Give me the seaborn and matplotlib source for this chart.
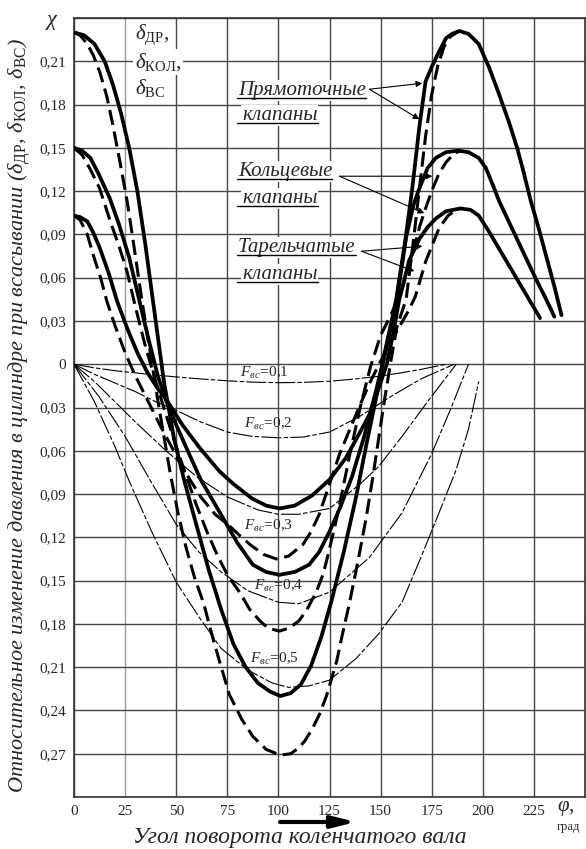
import matplotlib
matplotlib.use("Agg")
import matplotlib.pyplot as plt
import seaborn as sns
import pandas as pd
from matplotlib.lines import Line2D

sns.set_style("white")
plt.rcParams['font.family'] = ['Liberation Serif', 'DejaVu Serif']
plt.rcParams['mathtext.fontset'] = 'custom'
plt.rcParams['mathtext.rm'] = 'Liberation Serif'
plt.rcParams['mathtext.it'] = 'Liberation Serif:italic'
plt.rcParams['mathtext.bf'] = 'Liberation Serif:bold'

# crank angle, deg / relative pressure change (negative = below zero line)
PR_S_X = [0, 5, 10, 15, 19, 23, 27, 31, 35, 39, 44, 49, 54, 60, 66, 72, 78, 84, 90, 96,
          101, 106, 111, 116, 121, 126, 132, 138, 143, 148, 152, 157.5, 162, 165.5, 169, 172,
          175, 178, 182, 185, 188.5, 193, 198, 203, 208, 213, 217, 220, 223.5, 227, 231, 235, 238.5]
PR_S_Y = [0.230, 0.228, 0.222, 0.210, 0.194, 0.174, 0.150, 0.120, 0.082, 0.040, -0.012, -0.052,
          -0.081, -0.112, -0.143, -0.170, -0.194, -0.210, -0.221, -0.227, -0.230, -0.228, -0.222,
          -0.209, -0.189, -0.164, -0.130, -0.092, -0.056, -0.022, 0.008, 0.044, 0.085, 0.122, 0.165,
          0.196, 0.206, 0.215, 0.226, 0.229, 0.231, 0.229, 0.222, 0.206, 0.187, 0.167, 0.149, 0.133,
          0.113, 0.096, 0.075, 0.054, 0.034]

PR_D_X = [0, 3, 6.5, 9.5, 12.5, 16, 19, 22.5, 26, 29, 32, 35, 38, 41, 44, 47, 51, 55, 59, 63.5,
          67, 71, 76, 82, 87.5, 94, 101, 106, 110, 113, 116.5, 120, 123.5, 126, 128.5, 131.5, 135,
          139, 143, 146, 149, 152, 155, 158, 162.5, 166, 169, 172, 175, 178, 181, 184, 188.5]
PR_D_Y = [0.230, 0.228, 0.222, 0.214, 0.203, 0.186, 0.166, 0.140, 0.113, 0.085, 0.056, 0.028,
          0.002, -0.025, -0.050, -0.075, -0.104, -0.128, -0.148, -0.166, -0.185, -0.205, -0.229,
          -0.246, -0.258, -0.267, -0.271, -0.270, -0.266, -0.261, -0.253, -0.243, -0.230, -0.218,
          -0.206, -0.186, -0.164, -0.136, -0.106, -0.080, -0.052, -0.024, 0.002, 0.026, 0.045,
          0.085, 0.122, 0.158, 0.187, 0.207, 0.220, 0.227, 0.231]

KO_S_X = [0, 4, 8, 12, 17.5, 22, 27, 31, 36, 41, 45, 50, 55, 62, 71, 80, 87.5, 94, 100.5, 108,
          115, 120, 125, 130, 136, 142, 148, 153, 158, 162.5, 166, 169, 173, 177, 182, 188, 193,
          198, 201.5, 205, 208, 214, 220, 226, 231, 235]
KO_S_Y = [0.150, 0.148, 0.143, 0.132, 0.115, 0.097, 0.074, 0.050, 0.020, -0.008, -0.025, -0.042,
          -0.058, -0.080, -0.102, -0.124, -0.139, -0.144, -0.146, -0.144, -0.139, -0.130, -0.116,
          -0.100, -0.078, -0.050, -0.017, 0.012, 0.045, 0.088, 0.110, 0.122, 0.136, 0.143, 0.147,
          0.148, 0.147, 0.143, 0.136, 0.124, 0.113, 0.095, 0.077, 0.059, 0.045, 0.033]

KO_D_X = [0, 4, 8, 12.5, 18, 22, 26, 30, 35, 40, 45, 50, 55, 60, 65, 70, 75, 81, 86, 91, 95,
          100.5, 105, 110, 114, 118.5, 122, 125, 128, 131, 135, 140, 145, 150, 155, 160, 165.5,
          169, 172, 175, 178.5, 182, 186, 189]
KO_D_Y = [0.150, 0.145, 0.135, 0.122, 0.098, 0.082, 0.064, 0.040, 0.012, -0.012, -0.035, -0.057,
          -0.078, -0.098, -0.116, -0.132, -0.146, -0.158, -0.170, -0.178, -0.183, -0.185, -0.183,
          -0.178, -0.170, -0.158, -0.145, -0.128, -0.110, -0.090, -0.062, -0.030, -0.002, 0.020,
          0.034, 0.050, 0.075, 0.095, 0.108, 0.120, 0.132, 0.140, 0.146, 0.148]

TA_S_X = [0, 3, 6.5, 9.5, 12.5, 17, 21, 26, 31, 36, 41, 45, 53, 61.5, 71, 78, 87, 94, 100.5, 108,
          116.5, 125, 133, 140, 144.5, 149, 153, 156, 159, 164, 169, 173, 177, 182, 189, 194, 198,
          203, 208, 213, 218, 223, 228]
TA_S_Y = [0.103, 0.102, 0.099, 0.091, 0.081, 0.063, 0.044, 0.025, 0.008, -0.006, -0.017, -0.024,
          -0.042, -0.058, -0.074, -0.083, -0.093, -0.098, -0.100, -0.098, -0.091, -0.080, -0.065,
          -0.047, -0.035, -0.017, 0.000, 0.020, 0.044, 0.072, 0.087, 0.095, 0.101, 0.106, 0.108,
          0.107, 0.103, 0.092, 0.080, 0.068, 0.056, 0.044, 0.032]

TA_D_X = [0, 3, 6.5, 10, 13, 16, 20, 25, 30, 36, 42, 48, 55, 62, 69, 76, 82, 87, 93, 99, 105,
          112, 116, 120, 125, 130, 135, 140, 145, 150, 155, 160, 164, 167, 172, 178.5, 183, 187, 189]
TA_D_Y = [0.103, 0.100, 0.090, 0.073, 0.060, 0.044, 0.027, 0.008, -0.008, -0.025, -0.042, -0.058,
          -0.076, -0.092, -0.104, -0.112, -0.120, -0.126, -0.132, -0.135, -0.133, -0.125, -0.116,
          -0.104, -0.083, -0.062, -0.045, -0.028, -0.012, 0.002, 0.016, 0.028, 0.038, 0.047,
          0.071, 0.094, 0.103, 0.107, 0.108]

# thin curves, F_vs = 0.1 ... 0.5
F1_X = [0, 10, 20, 30, 40, 50, 62, 75, 87, 100, 112, 125, 137, 150, 160, 170, 182]
F1_Y = [0, -0.0025, -0.0045, -0.006, -0.0075, -0.0088, -0.0102, -0.0115, -0.0124, -0.0128,
        -0.0126, -0.0118, -0.0103, -0.0082, -0.006, -0.0035, 0]
F2_X = [0, 10, 20, 30, 40, 50, 62, 75, 87, 100, 112, 125, 140, 156, 170, 186]
F2_Y = [0, -0.007, -0.013, -0.019, -0.026, -0.032, -0.040, -0.047, -0.050, -0.051, -0.0505,
        -0.047, -0.036, -0.0215, -0.010, 0]
F3_X = [0, 10, 20, 30, 45, 60, 75, 90, 100, 110, 125, 140, 149, 160.5, 174, 187]
F3_Y = [0, -0.012, -0.026, -0.040, -0.060, -0.078, -0.092, -0.101, -0.104, -0.104, -0.100,
        -0.083, -0.071, -0.050, -0.024, 0]
F4_X = [0, 12, 25, 37.5, 50, 61, 72, 85, 100, 110, 125, 144.5, 160.5, 175, 184, 193]
F4_Y = [0, -0.022, -0.050, -0.081, -0.111, -0.130, -0.144, -0.157, -0.165, -0.166, -0.158,
        -0.134, -0.103, -0.062, -0.032, 0]
F5_X = [0, 10, 20, 27, 38, 50, 62, 72, 85, 97, 105, 115, 125, 138, 149, 160.5, 170, 180, 187,
        193, 198]
F5_Y = [0, -0.026, -0.057, -0.081, -0.116, -0.151, -0.177, -0.197, -0.212, -0.221, -0.224,
        -0.223, -0.219, -0.204, -0.187, -0.165, -0.133, -0.098, -0.073, -0.045, -0.012]

F_LABELS = ["0{,}1", "0{,}2", "0{,}3", "0{,}4", "0{,}5"]
F_LABEL_POS = [(93, -0.0062), (95, -0.0416), (95, -0.112), (100, -0.154), (98, -0.204)]

X_TICKS = [0, 25, 50, 75, 100, 125, 150, 175, 200, 225]
Y_TICKS = [-0.27, -0.24, -0.21, -0.18, -0.15, -0.12, -0.09, -0.06, -0.03, 0.0,
           0.03, 0.06, 0.09, 0.12, 0.15, 0.18, 0.21]

W, H = 586, 849
fig = plt.figure(figsize=(W / 100, H / 100), dpi=100)
ax = fig.add_axes([74 / W, 52 / H, 511 / W, 779 / H])


def fx(px):
    return px / W


def fy(py):
    return 1 - py / H


def px2data(px, py):
    return (px - 74) * 250 / 512, (363 - py) * 0.54 / 779


# thin F_vs curves
thin_dash = (0, (18, 2, 4, 2))
for fxs, fys in [(F1_X, F1_Y), (F2_X, F2_Y), (F3_X, F3_Y), (F4_X, F4_Y), (F5_X, F5_Y)]:
    sns.lineplot(x=fxs, y=fys, ax=ax, color='black', lw=0.8, linestyle=thin_dash,
                 estimator=None, sort=False, zorder=3)

# thick valve curves
for xs, ys in [(PR_S_X, PR_S_Y), (KO_S_X, KO_S_Y), (TA_S_X, TA_S_Y)]:
    sns.lineplot(x=xs, y=ys, ax=ax, color='black', lw=2.7, estimator=None, sort=False,
                 solid_capstyle='round', solid_joinstyle='round', zorder=4)
for xs, ys in [(PR_D_X, PR_D_Y), (KO_D_X, KO_D_Y), (TA_D_X, TA_D_Y)]:
    sns.lineplot(x=xs, y=ys, ax=ax, color='black', lw=2.2, linestyle=(0, (5, 2.2)),
                 estimator=None, sort=False, zorder=4)

for lab, (lx, ly) in zip(F_LABELS, F_LABEL_POS):
    ax.text(lx, ly, r'$F_{вс}\!=\!' + lab + '$', fontsize=11, ha='center', va='center',
            zorder=5)

ax.set_xlim(0, 250)
ax.set_ylim(-0.30, 0.24)
ax.set_xticks(X_TICKS + [250])
ax.set_xticklabels([str(v) for v in X_TICKS] + [''])
ax.set_yticks(Y_TICKS + [-0.30, 0.24])
ax.set_yticklabels(['0' if v == 0 else f"{abs(v):.2f}".replace('.', ',') for v in Y_TICKS]
                   + ['', ''])
ax.tick_params(length=0, labelsize=11, pad=6)
ax.grid(True, color='#454545', lw=1.0)
ax.xaxis.get_gridlines()[1].set_color('#9a9a9a')
for s in ax.spines.values():
    s.set_color('#333333')
    s.set_linewidth(1.2)
ax.set_xlabel('')
ax.set_ylabel('')

# legend-like labels with arrows
fig.text(fx(52), fy(22), r'$\chi$', fontsize=16, ha='center', va='center')
for txt, py in [(r'$\delta_{\mathrm{ДР}}$,', 35), (r'$\delta_{\mathrm{КОЛ}}$,', 62),
                (r'$\delta_{\mathrm{ВС}}$', 88)]:
    fig.text(fx(135), fy(py), txt, fontsize=15, ha='left', va='center',
             bbox=dict(facecolor='white', edgecolor='none', pad=1.5))

groups = [
    ('Прямоточные', 95, 120, (370, 88), [(423, 82), (420, 118)]),
    ('Кольцевые', 176, 203, (340, 175), [(433, 175), (425, 212)]),
    ('Тарельчатые', 252, 279, (362, 250), [(423, 245), (415, 270)]),
]
texts = []
for name, b1, b2, start, tips in groups:
    t1 = fig.text(fx(238), fy(b1), name, fontsize=15, style='italic', va='baseline',
                  ha='left', bbox=dict(facecolor='white', edgecolor='none', pad=0.5))
    t2 = fig.text(fx(242), fy(b2), 'клапаны', fontsize=15, style='italic', va='baseline',
                  ha='left', bbox=dict(facecolor='white', edgecolor='none', pad=0.5))
    texts.append((t1, b1))
    texts.append((t2, b2))
    for tip in tips:
        ax.annotate('', xy=px2data(*tip), xytext=px2data(*start),
                    arrowprops=dict(arrowstyle='-|>', color='black', lw=0.8,
                                    mutation_scale=9, shrinkA=0, shrinkB=0), zorder=6)

fig.canvas.draw()
renderer = fig.canvas.get_renderer()
for t, base in texts:
    bb = t.get_window_extent(renderer)
    fig.add_artist(Line2D([fx(237), bb.x1 / W], [fy(base + 3), fy(base + 3)],
                          color='black', lw=1.0, zorder=20))

# axis titles
fig.text(fx(20), fy(415),
         'Относительное изменение давления в цилиндре при всасывании '
         r'($\delta_{\mathrm{ДР}}$, $\delta_{\mathrm{КОЛ}}$, $\delta_{\mathrm{ВС}}$)',
         rotation=90, fontsize=16, style='italic', ha='center', va='center')
fig.text(fx(300), fy(843), 'Угол поворота коленчатого вала', fontsize=17,
         style='italic', ha='center', va='baseline')
fig.text(fx(566), fy(809), r'$\varphi$,', fontsize=15, ha='center', va='center')
fig.text(fx(569), fy(827), 'град', fontsize=9, ha='center', va='center')
ax.annotate('', xy=(fx(356), fy(822)), xytext=(fx(280), fy(822)),
            xycoords='figure fraction', textcoords='figure fraction',
            arrowprops=dict(arrowstyle='-|>,head_length=1.4,head_width=0.35', color='black',
                            lw=3, mutation_scale=10, shrinkA=0, shrinkB=0))

fig.savefig('out.png', dpi=100)
